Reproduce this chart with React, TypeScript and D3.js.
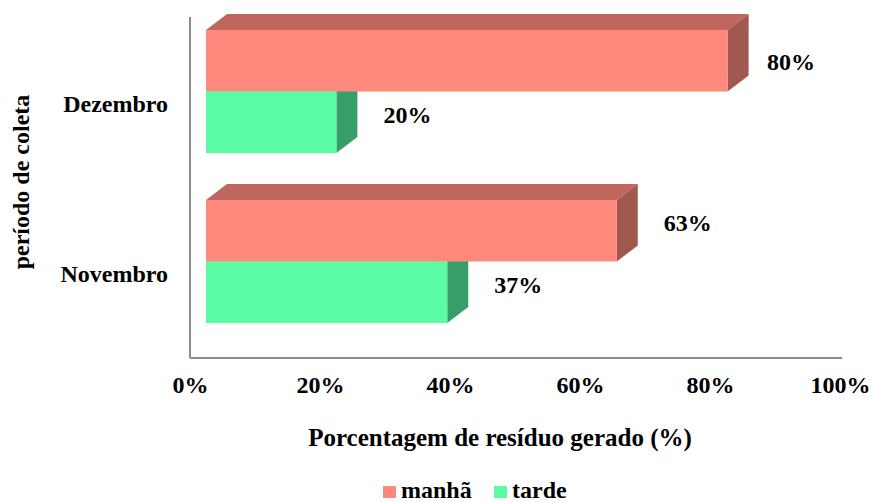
import * as d3 from "d3";
import { useRef, useEffect } from "react";

const width = 873;
const height = 502;
const font = "'Liberation Serif', 'Times New Roman', serif";
const fs = 24;

const categories = ["Dezembro", "Novembro"];
const seriesNames = ["manhã", "tarde"];
const manha = [0.8, 0.63];
const tarde = [0.2, 0.37];
const tickValues = [0, 0.2, 0.4, 0.6, 0.8, 1];

const frontColors = ["#FF887D", "#5BFAA4"];
const topColors = ["#BF665E", "#44BB7B"];
const sideColors = ["#A0584F", "#389E69"];

const plot = { left: 190, right: 842, top: 17, bottom: 358 };
const depth = { dx: 21, dy: 16 };

export default function App() {
  const xAxisRef = useRef<SVGGElement>(null);

  const xScale = d3.scaleLinear().domain([0, 1]).range([plot.left, 840]);
  const xBar = d3
    .scaleLinear()
    .domain([0, 1])
    .range([plot.left + 16, plot.left + 16 + 652]);
  const yScale = d3
    .scaleBand()
    .domain(categories)
    .range([30, 323])
    .paddingInner(47 / 170)
    .paddingOuter(0);
  const ySub = d3
    .scaleBand()
    .domain(seriesNames)
    .range([0, yScale.bandwidth()]);

  const xAxis = d3
    .axisBottom(xScale)
    .tickValues(tickValues)
    .tickFormat(d3.format(".0%"))
    .tickSize(0)
    .tickPadding(18);

  useEffect(() => {
    if (!xAxisRef.current) return;
    const g = d3.select(xAxisRef.current);
    g.call(xAxis);
    g.select(".domain").remove();
    g.selectAll("text")
      .attr("font-family", font)
      .attr("font-weight", "bold")
      .attr("font-size", fs)
      .attr("fill", "#000");
  }, [xAxis]);

  const values = [manha, tarde];

  // draw order: tarde hidden faces, then manhã, then tarde front
  const box = (ci: number, si: number) => {
    const v = values[si][ci];
    const x0 = xBar(0);
    const x1 = xBar(v);
    const y0 = (yScale(categories[ci]) ?? 0) + (ySub(seriesNames[si]) ?? 0);
    const h = ySub.bandwidth();
    const { dx, dy } = depth;
    return {
      top: `M${x0},${y0} L${x0 + dx},${y0 - dy} L${x1 + dx},${y0 - dy} L${x1},${y0} Z`,
      side: `M${x1},${y0} L${x1 + dx},${y0 - dy} L${x1 + dx},${y0 + h - dy} L${x1},${y0 + h} Z`,
      front: { x: x0, y: y0, w: x1 - x0, h },
    };
  };

  const labelPos = (ci: number, si: number) => {
    const v = values[si][ci];
    const y0 = (yScale(categories[ci]) ?? 0) + (ySub(seriesNames[si]) ?? 0);
    const cy = y0 + ySub.bandwidth() / 2;
    const raw = xBar(v) + 47;
    const maxX = plot.right - 75;
    if (raw > maxX) return { x: maxX, y: cy + 1 };
    return { x: raw, y: cy - 8 };
  };

  return (
    <svg
      width={width}
      height={height}
      style={{ position: "absolute", left: 0, top: 0, background: "#fff" }}
    >
      {/* axes */}
      <line
        x1={plot.left}
        x2={plot.left}
        y1={plot.top}
        y2={plot.bottom}
        stroke="#8C8C8C"
        strokeWidth={2}
      />
      <line
        x1={plot.left}
        x2={plot.right}
        y1={plot.bottom}
        y2={plot.bottom}
        stroke="#8C8C8C"
        strokeWidth={2}
      />

      {categories.map((c, ci) => {
        const m = box(ci, 0);
        const t = box(ci, 1);
        return (
          <g key={c}>
            <path d={t.top} fill={topColors[1]} />
            <path d={t.side} fill={sideColors[1]} />
            <path d={m.top} fill={topColors[0]} />
            <path d={m.side} fill={sideColors[0]} />
            <rect
              x={m.front.x}
              y={m.front.y}
              width={m.front.w}
              height={m.front.h}
              fill={frontColors[0]}
            />
            <rect
              x={t.front.x}
              y={t.front.y}
              width={t.front.w}
              height={t.front.h}
              fill={frontColors[1]}
            />
          </g>
        );
      })}

      {/* value labels */}
      {categories.map((c, ci) =>
        seriesNames.map((s, si) => {
          const p = labelPos(ci, si);
          return (
            <text
              key={c + s}
              x={p.x}
              y={p.y}
              dy="0.35em"
              fontFamily={font}
              fontWeight="bold"
              fontSize={fs}
            >
              {d3.format(".0%")(values[si][ci])}
            </text>
          );
        })
      )}

      {/* category labels */}
      {categories.map((c) => (
        <text
          key={c}
          x={168}
          y={(yScale(c) ?? 0) + yScale.bandwidth() / 2 + 12}
          dy="0.35em"
          textAnchor="end"
          fontFamily={font}
          fontWeight="bold"
          fontSize={fs}
        >
          {c}
        </text>
      ))}

      <g ref={xAxisRef} transform={`translate(0,${plot.bottom})`} />

      {/* axis titles */}
      <text
        x={500}
        y={446}
        textAnchor="middle"
        fontFamily={font}
        fontWeight="bold"
        fontSize={25}
      >
        Porcentagem de resíduo gerado (%)
      </text>
      <text
        transform={`translate(21,182) rotate(-90)`}
        dy="0.35em"
        textAnchor="middle"
        fontFamily={font}
        fontWeight="bold"
        fontSize={fs}
      >
        período de coleta
      </text>

      {/* legend */}
      {seriesNames.map((s, si) => {
        const lx = [383, 494][si];
        return (
          <g key={s} transform={`translate(${lx},0)`}>
            <rect x={0} y={486} width={13} height={12} fill={frontColors[si]} />
            <text
              x={18}
              y={498}
              fontFamily={font}
              fontWeight="bold"
              fontSize={fs}
            >
              {s}
            </text>
          </g>
        );
      })}
    </svg>
  );
}
